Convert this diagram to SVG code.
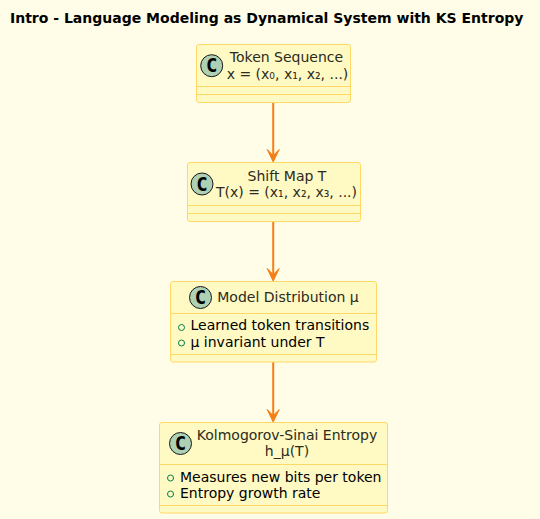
<svg xmlns="http://www.w3.org/2000/svg" width="540" height="519" viewBox="0 0 540 519">
<style>
text{font-family:"DejaVu Sans",sans-serif;font-size:14px;fill:#000}
.t{font-weight:bold;font-size:14px}
.n{fill:#2b2b20;text-anchor:middle}
.box{fill:#FFF9C4;stroke:#FFD966;stroke-width:1}
.div{stroke:#FFD966;stroke-width:1}
.spot{fill:#ADD1B2;stroke:#181818;stroke-width:1}
.c{font-family:"DejaVu Sans Mono",monospace;font-weight:bold;font-size:19px;text-anchor:middle;fill:#000}
.vis{fill:none;stroke:#038048;stroke-width:1}
.edge{stroke:#F57F17;stroke-width:2;fill:none}
.head{fill:#F57F17;stroke:#F57F17}
</style>
<rect width="540" height="519" fill="#FFFDE7"/>
<text class="t" x="10" y="23">Intro - Language Modeling as Dynamical System with KS Entropy</text>
<g id="connectors">
<path class="edge" d="M273.200 102.500V156"/><path class="head" d="M273.200 162L267.200 149.500L273.200 155.500L279.200 149.500Z"/>
<path class="edge" d="M273.200 221.500V275"/><path class="head" d="M273.200 281L267.200 268.500L273.200 274.500L279.200 268.500Z"/>
<path class="edge" d="M273.200 362V416"/><path class="head" d="M273.200 422L267.200 409.500L273.200 415.500L279.200 409.500Z"/>
</g>
<g id="token-sequence">
<rect class="box" x="196.500" y="44.500" width="154" height="58" rx="2.500"/>
<path class="div" d="M196.500 86.500H350.500M196.500 94.500H350.500"/>
<circle class="spot" cx="211.700" cy="65.700" r="11"/><text class="c" x="211.700" y="72">C</text>
<text class="n" x="286.500" y="62">Token Sequence</text>
<text class="n" x="287.500" y="79">x = (x₀, x₁, x₂, ...)</text>
</g>
<g id="shift-map">
<rect class="box" x="187.500" y="162.500" width="173" height="59" rx="2.500"/>
<path class="div" d="M187.500 205.500H360.500M187.500 213.500H360.500"/>
<circle class="spot" cx="202" cy="184" r="11"/><text class="c" x="202" y="190.500">C</text>
<text class="n" x="287" y="181">Shift Map T</text>
<text class="n" x="286.500" y="197">T(x) = (x₁, x₂, x₃, ...)</text>
</g>
<g id="model-distribution">
<rect class="box" x="170.500" y="281.500" width="206" height="80.500" rx="2.500"/>
<path class="div" d="M170.500 313.500H376.500M170.500 354.500H376.500"/>
<circle class="spot" cx="200.500" cy="297.500" r="11"/><text class="c" x="200.500" y="304">C</text>
<text class="n" x="288" y="302">Model Distribution µ</text>
<circle class="vis" cx="181.500" cy="327.500" r="3"/><text x="190.500" y="330">Learned token transitions</text>
<circle class="vis" cx="181.500" cy="343" r="3"/><text x="190.500" y="347">µ invariant under T</text>
</g>
<g id="ks-entropy">
<rect class="box" x="159.500" y="422.500" width="228" height="90.500" rx="2.500"/>
<path class="div" d="M159.500 464.500H387.500M159.500 505.500H387.500"/>
<circle class="spot" cx="180.500" cy="443.500" r="11"/><text class="c" x="180.500" y="450">C</text>
<text class="n" x="287" y="440">Kolmogorov-Sinai Entropy</text>
<text class="n" x="287" y="456">h_µ(T)</text>
<circle class="vis" cx="170.500" cy="478" r="3"/><text x="180" y="482">Measures new bits per token</text>
<circle class="vis" cx="170.500" cy="494" r="3"/><text x="180" y="498">Entropy growth rate</text>
</g>
</svg>
